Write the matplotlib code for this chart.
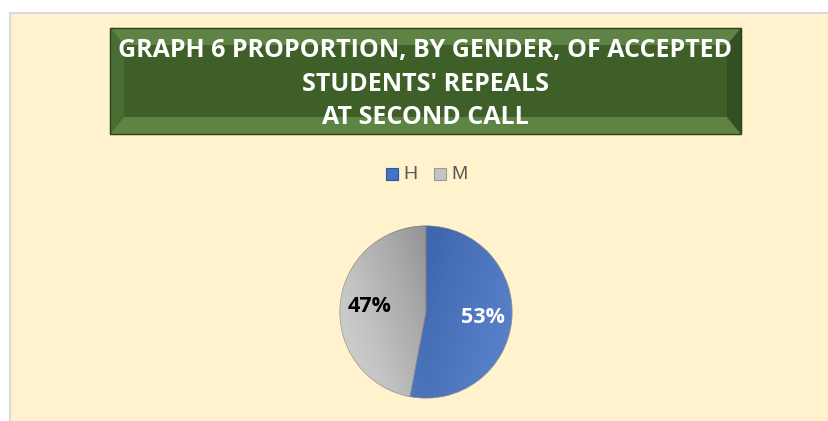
import numpy as np
import matplotlib
matplotlib.use("Agg")
import matplotlib.pyplot as plt
from matplotlib.patches import Rectangle, Polygon

# chart data
labels = ["H", "M"]
shares = [53, 47]
colors = ["#4472c4", "#c3c3c3"]
label_colors = ["white", "black"]
title_lines = ["GRAPH 6 PROPORTION, BY GENDER, OF ACCEPTED",
               "STUDENTS' REPEALS",
               "AT SECOND CALL"]

W, H = 829, 421
fig = plt.figure(figsize=(W / 100, H / 100), dpi=100)
fig.patch.set_facecolor("white")

# background layer in pixel coordinates
bg = fig.add_axes([0, 0, 1, 1])
bg.set_xlim(0, W)
bg.set_ylim(H, 0)
bg.axis("off")
bg.add_patch(Rectangle((10, 13), W - 8, H, facecolor="#fff2cc",
                       edgecolor="#d9d9d9", lw=1.5))

# bevelled title box
x0, y0, x1, y1 = 110, 28, 741, 134
bx, by = 14, 17
bg.add_patch(Rectangle((x0, y0), x1 - x0, y1 - y0, facecolor="#3e5f28",
                       edgecolor="#c8c59a", lw=1))
bg.add_patch(Polygon([(x0, y0), (x1, y0), (x1 - bx, y0 + by), (x0 + bx, y0 + by)],
                     facecolor="#5f8344", lw=0))
bg.add_patch(Polygon([(x0, y1), (x1, y1), (x1 - bx, y1 - by), (x0 + bx, y1 - by)],
                     facecolor="#5e8443", lw=0))
bg.add_patch(Polygon([(x0, y0), (x0 + bx, y0 + by), (x0 + bx, y1 - by), (x0, y1)],
                     facecolor="#4a6d33", lw=0))
bg.add_patch(Polygon([(x1, y0), (x1 - bx, y0 + by), (x1 - bx, y1 - by), (x1, y1)],
                     facecolor="#344f22", lw=0))
bg.add_patch(Rectangle((x0, y0), x1 - x0, y1 - y0, facecolor="none",
                       edgecolor="#2c4419", lw=1))
for i, line in enumerate(title_lines):
    bg.text((x0 + x1) / 2, 51 + i * 33.5, line, ha="center", va="center",
            color="white", fontsize=18, fontweight="bold",
            family="Open Sans")

# legend
lx = [392, 440]
for i, lab in enumerate(labels):
    bg.add_patch(Rectangle((lx[i] - 6, 168), 12, 12, facecolor=colors[i],
                           edgecolor="#9a9a9a" if i else "#2f5597", lw=0.8))
    bg.text(lx[i] + 11, 174.5, lab, ha="left", va="center", color="#595959",
            fontsize=14, family="Liberation Sans")

# pie
cx, cy, r = 426, 312, 87
ax = fig.add_axes([(cx - r) / W, (H - cy - r) / H, 2 * r / W, 2 * r / H])
wedges, texts, autotexts = ax.pie(shares, colors=colors, startangle=90,
                                  counterclock=False, autopct="%.0f%%",
                                  pctdistance=0.66,
                                  wedgeprops=dict(edgecolor="#8a8a8a", lw=0.5))
for t, c in zip(autotexts, label_colors):
    t.set_color(c)
    t.set_fontsize(15.5)
    t.set_fontweight("bold")
    t.set_family("Open Sans")

# soft shading on the slices
yy, xx = np.mgrid[-1:1:300j, -1:1:300j]
shade = np.clip(0.5 + 0.3 * np.abs(xx) - 0.1 * yy, 0, 1)
for w, a in zip(wedges, [0.12, 0.25]):
    im = ax.imshow(shade, extent=(-1, 1, -1, 1), cmap="Greys_r", alpha=a,
                   origin="lower", zorder=w.get_zorder() + 0.1)
    im.set_clip_path(w)
ax.set_xlim(-1.01, 1.01)
ax.set_ylim(-1.01, 1.01)
ax.set_aspect("equal")
ax.axis("off")

fig.savefig("out.png", dpi=100, facecolor=fig.get_facecolor())
